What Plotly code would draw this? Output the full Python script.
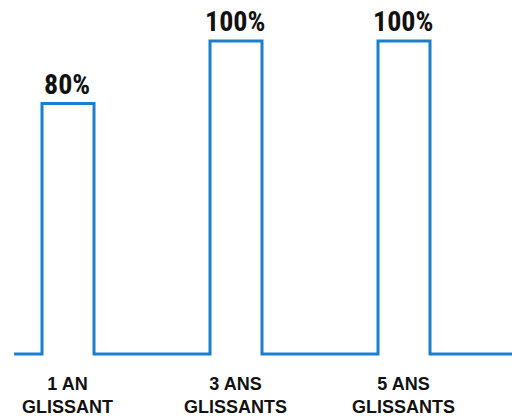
import plotly.graph_objects as go

categories = ["1 AN<br>GLISSANT", "3 ANS<br>GLISSANTS", "5 ANS<br>GLISSANTS"]
values = [80, 100, 100]
value_labels = ["80%", "100%", "100%"]

COLOR = "#1a7fcf"
HALF = 26 / 168          # half width of each pulse in category units
X_START = -0.321
X_END = 2.70

# build the step outline from the data
xs = [X_START]
ys = [0]
for i, v in enumerate(values):
    xs += [i - HALF, i - HALF, i + HALF, i + HALF]
    ys += [0, v, v, 0]
xs.append(X_END)
ys.append(0)

fig = go.Figure()
fig.add_trace(go.Scatter(x=xs, y=ys, mode="lines",
                         line=dict(color=COLOR, width=3, shape="linear"),
                         hoverinfo="skip"))

for i, (v, lab) in enumerate(zip(values, value_labels)):
    fig.add_annotation(x=i, y=v, text="<b>" + lab + "</b>", showarrow=False,
                       yanchor="bottom", yshift=1, xshift=-1,
                       font=dict(family="Roboto Condensed, Roboto, sans-serif",
                                 size=28, color="#111111"))

for i, c in enumerate(categories):
    fig.add_annotation(x=i, y=0, text="<b>" + c + "</b>", showarrow=False,
                       yanchor="top", yshift=-18, xshift=-1,
                       font=dict(family="Liberation Sans, Arial, sans-serif",
                                 size=18, color="#111111"))

fig.update_layout(
    width=512, height=416,
    margin=dict(l=0, r=0, t=0, b=0),
    paper_bgcolor="white", plot_bgcolor="white",
    showlegend=False,
    xaxis=dict(range=[-68 / 168, 444 / 168], visible=False, fixedrange=True),
    yaxis=dict(range=[-62 / 313 * 100, 354 / 313 * 100], visible=False, fixedrange=True),
)

fig.write_html("out.html")
